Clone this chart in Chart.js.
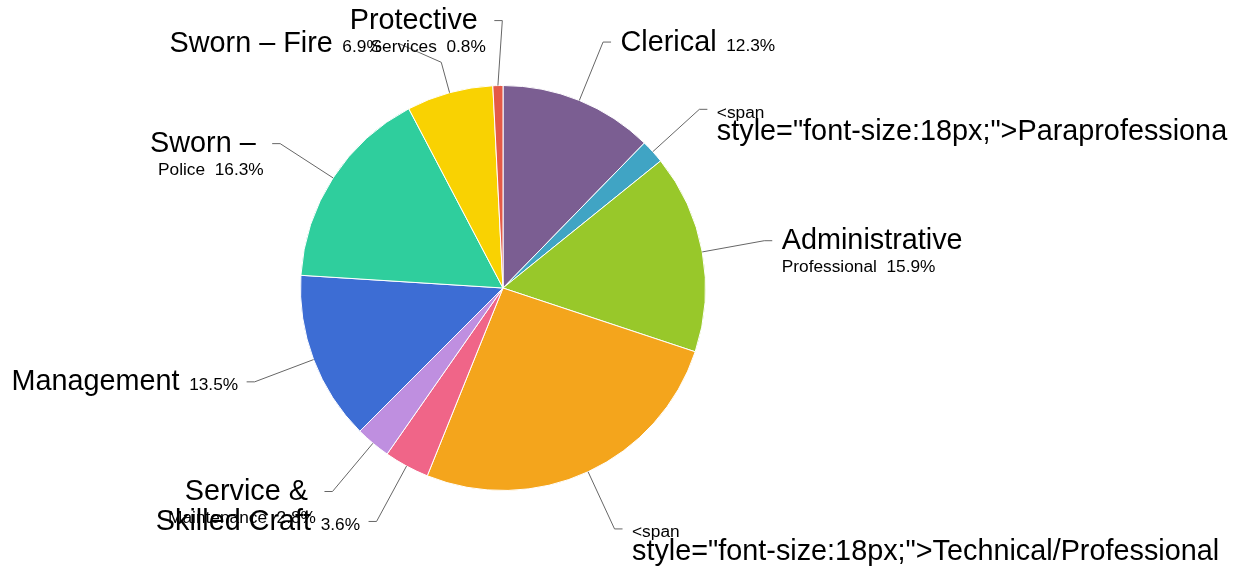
<!DOCTYPE html>
<html>
<head>
<meta charset="utf-8">
<title>Workforce by Job Category</title>
<script src="https://cdn.jsdelivr.net/npm/chart.js@4"></script>
<style>
  html, body { margin: 0; padding: 0; background: #fff; }
  #wrap { width: 1249px; height: 568px; }
</style>
</head>
<body>
<div id="wrap"><canvas id="pie"></canvas></div>
<script>
// Workforce share by job category (percent of total)
const categories = [
    'Clerical', 'Paraprofessional', 'Administrative Professional', 'Technical/Professional',
    'Skilled Craft', 'Service & Maintenance', 'Management', 'Sworn – Police',
    'Sworn – Fire', 'Protective Services'
];
const shares = [12.3, 1.9, 15.9, 26.0, 3.6, 2.8, 13.5, 16.3, 6.9, 0.8];
const sliceColors = [
    '#7b5e92', '#40a4c4', '#98c82a', '#f4a51c', '#f06588',
    '#bf8fe0', '#3d6dd4', '#2fce9d', '#f9d202', '#e45a47'
];

// Data label lines: text before '|' is set large, text after it small; {pct} = slice share
const labelLines = [
    ['Clerical|  {pct}'],
    ['|<span', 'style="font-size:18px;">Paraprofessiona|'],
    ['Administrative |', '|Professional  {pct}'],
    ['|<span', 'style="font-size:18px;">Technical/Professional|'],
    ['Skilled Craft|  {pct}'],
    ['Service & |', '|Maintenance  {pct}'],
    ['Management|  {pct}'],
    ['Sworn – |', '|Police  {pct}'],
    ['Sworn – Fire|  {pct}'],
    ['Protective |', '|Services  {pct}']
];

const BIG_FONT = '28.8px "Liberation Sans", Arial, sans-serif';
const SMALL_FONT = '17.3px "Liberation Sans", Arial, sans-serif';

// a couple of labels got nudged to keep them apart at the top
const labelTweaks = {
    8: { bendR: 234, endDx: -43, endDy: -19, textDx: -8 },
    9: { bendDx: 6, bendDy: -2 }
};

/**
 * Outside labels with elbow connectors
 */
const pieLabels = {
    id: 'pieLabels',
    afterDatasetsDraw(chart) {
        const ctx = chart.ctx;
        const arcs = chart.getDatasetMeta(0).data;

        const items = arcs.map((arc, i) => {
            const mid = (arc.startAngle + arc.endAngle) / 2;
            const cos = Math.cos(mid);
            const sin = Math.sin(mid);
            const t = labelTweaks[i] || {};
            const right = cos > 0;
            const r = arc.outerRadius;
            const bendR = t.bendR || r + 63;
            const start = { x: arc.x + cos * r, y: arc.y + sin * r };
            const bend = {
                x: arc.x + cos * bendR + (t.bendDx || 0),
                y: arc.y + sin * bendR + (t.bendDy || 0)
            };
            const end = {
                x: bend.x + (t.endDx !== undefined ? t.endDx : (right ? 8 : -8)),
                y: bend.y + (t.endDy || 0)
            };
            return { i, right, start, bend, end, textDx: t.textDx || 0 };
        });

        ctx.save();
        ctx.strokeStyle = '#666';
        ctx.lineWidth = 1;
        items.forEach(p => {
            ctx.beginPath();
            ctx.moveTo(p.start.x, p.start.y);
            ctx.lineTo(p.bend.x, p.bend.y);
            ctx.lineTo(p.end.x, p.end.y);
            ctx.stroke();
        });

        ctx.fillStyle = '#000';
        ctx.textBaseline = 'alphabetic';
        ctx.textAlign = 'left';
        items.forEach(p => {
            const edge = (p.right ? p.end.x + 9.5 : p.end.x - 8.5) + p.textDx;
            labelLines[p.i].forEach((line, k) => {
                const text = line.replace('{pct}', shares[p.i].toFixed(1) + '%');
                const [big, small] = text.split('|');
                ctx.font = BIG_FONT;
                const wb = ctx.measureText(big).width;
                ctx.font = SMALL_FONT;
                const ws = ctx.measureText(small).width;
                const x = p.right ? edge : edge - wb - ws;
                const y = p.end.y + 8.5 + k * 22.5;
                ctx.font = BIG_FONT;
                ctx.fillText(big, x, y);
                ctx.font = SMALL_FONT;
                ctx.fillText(small, x + wb, y);
            });
        });
        ctx.restore();
    }
};

new Chart(document.getElementById('pie'), {
    type: 'pie',
    data: {
        labels: categories,
        datasets: [{
            data: shares,
            backgroundColor: sliceColors,
            borderColor: '#ffffff',
            borderWidth: 1,
            hoverOffset: 0
        }]
    },
    options: {
        responsive: true,
        maintainAspectRatio: false,
        animation: false,
        layout: {
            padding: { left: 300, right: 543, top: 85, bottom: 77 }
        },
        plugins: {
            legend: { display: false },
            tooltip: { enabled: false }
        }
    },
    plugins: [pieLabels]
});
</script>
</body>
</html>
